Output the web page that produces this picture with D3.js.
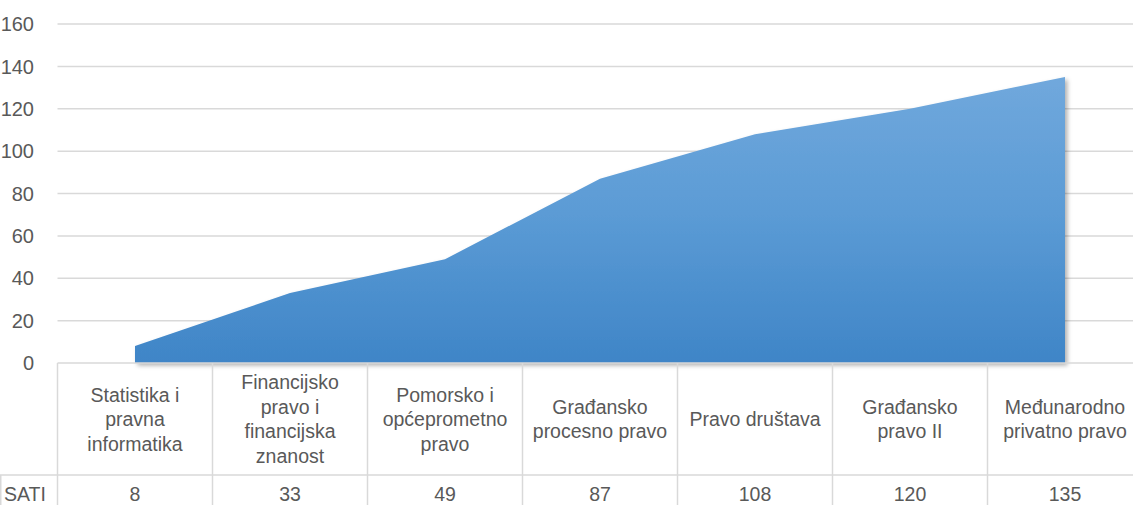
<!DOCTYPE html>
<html lang="hr">
<head>
  <meta charset="UTF-8" />
  <title>SATI</title>
  <style>
    html, body { margin: 0; padding: 0; background: #fff; }
    svg { display: block; font-family: "Liberation Sans", Arial, sans-serif; }
    .tick-label { fill: #595959; font-size: 20px; }
    .cell-text { fill: #595959; font-size: 19.5px; }
  </style>
</head>
<body>
  <svg id="chart"></svg>

  <script src="https://d3js.org/d3.v7.min.js"></script>
  <script>
    const categories = [
      "Statistika i\npravna\ninformatika",
      "Financijsko\npravo i\nfinancijska\nznanost",
      "Pomorsko i\nopćeprometno\npravo",
      "Građansko\nprocesno pravo",
      "Pravo društava",
      "Građansko\npravo II",
      "Međunarodno\nprivatno pravo"
    ];
    const seriesName = "SATI";
    const values = [8, 33, 49, 87, 108, 120, 135];
    const yTicks = [0, 20, 40, 60, 80, 100, 120, 140, 160];

    const W = 1133, H = 505;
    const plotLeft = 57.5;
    const colW = 155;
    const plotTop = 24, plotBottom = 363;
    const tableRow1 = 475;

    const svg = d3.select("#chart").attr("width", W).attr("height", H);

    const x = d3.scaleBand()
      .domain(categories)
      .range([plotLeft, plotLeft + colW * categories.length])
      .padding(0);
    const cx = c => x(c) + x.bandwidth() / 2;

    const y = d3.scaleLinear().domain([0, 160]).range([plotBottom, plotTop]);

    const defs = svg.append("defs");
    const grad = defs.append("linearGradient")
      .attr("id", "areaGrad")
      .attr("gradientUnits", "userSpaceOnUse")
      .attr("x1", 0).attr("x2", 0)
      .attr("y1", y(140)).attr("y2", y(0));
    grad.append("stop").attr("offset", "0%").attr("stop-color", "#72a9dd");
    grad.append("stop").attr("offset", "50%").attr("stop-color", "#5b9bd5");
    grad.append("stop").attr("offset", "100%").attr("stop-color", "#3f85c7");

    const shadow = defs.append("filter").attr("id", "shadow")
      .attr("x", "-5%").attr("y", "-5%").attr("width", "110%").attr("height", "115%");
    shadow.append("feDropShadow")
      .attr("dx", 2.5).attr("dy", 2.5).attr("stdDeviation", 2)
      .attr("flood-color", "#000").attr("flood-opacity", 0.3);

    // gridlines
    svg.append("g")
      .selectAll("line")
      .data(yTicks.filter(d => d > 0))
      .join("line")
      .attr("x1", plotLeft).attr("x2", W)
      .attr("y1", d => y(d)).attr("y2", d => y(d))
      .attr("stroke", "#d9d9d9").attr("stroke-width", 1.5);

    // tick labels
    svg.append("g")
      .selectAll("text")
      .data(yTicks)
      .join("text")
      .attr("class", "tick-label")
      .attr("x", 34)
      .attr("y", d => y(d))
      .attr("dy", "0.36em")
      .attr("text-anchor", "end")
      .text(d => d);

    // area
    const data = categories.map((c, i) => ({ c, v: values[i] }));
    const area = d3.area()
      .x(d => cx(d.c))
      .y0(y(0))
      .y1(d => y(d.v));

    svg.append("path")
      .datum(data)
      .attr("d", area)
      .attr("fill", "url(#areaGrad)")
      .attr("filter", "url(#shadow)");

    // data table
    const table = svg.append("g");
    const lineColor = "#d9d9d9";

    table.append("line")
      .attr("x1", plotLeft).attr("x2", W)
      .attr("y1", plotBottom).attr("y2", plotBottom)
      .attr("stroke", lineColor).attr("stroke-width", 1.5);
    table.append("line")
      .attr("x1", 0).attr("x2", W)
      .attr("y1", tableRow1).attr("y2", tableRow1)
      .attr("stroke", lineColor).attr("stroke-width", 1.5);
    table.append("line")
      .attr("x1", 0.75).attr("x2", 0.75)
      .attr("y1", tableRow1).attr("y2", H)
      .attr("stroke", lineColor).attr("stroke-width", 1.5);

    const borders = categories.map(c => x(c)).concat([x(categories[categories.length - 1]) + colW]);
    table.selectAll(".vline")
      .data(borders)
      .join("line")
      .attr("class", "vline")
      .attr("x1", d => d).attr("x2", d => d)
      .attr("y1", plotBottom).attr("y2", H)
      .attr("stroke", lineColor).attr("stroke-width", 1.5);

    const lineH = 24.5;
    const midHeader = (plotBottom + tableRow1) / 2;
    table.selectAll(".cat")
      .data(categories)
      .join("text")
      .attr("class", "cell-text cat")
      .attr("text-anchor", "middle")
      .each(function (c) {
        const lines = c.split("\n");
        const start = midHeader - (lines.length - 1) * lineH / 2;
        d3.select(this).selectAll("tspan")
          .data(lines)
          .join("tspan")
          .attr("x", cx(c))
          .attr("y", (d, i) => start + i * lineH)
          .attr("dy", "0.36em")
          .text(d => d);
      });

    table.append("text")
      .attr("class", "cell-text")
      .attr("x", 4)
      .attr("y", 494)
      .attr("dy", "0.36em")
      .text(seriesName);

    table.selectAll(".val")
      .data(data)
      .join("text")
      .attr("class", "cell-text val")
      .attr("text-anchor", "middle")
      .attr("x", d => cx(d.c))
      .attr("y", 494)
      .attr("dy", "0.36em")
      .text(d => d.v);
  </script>
</body>
</html>
